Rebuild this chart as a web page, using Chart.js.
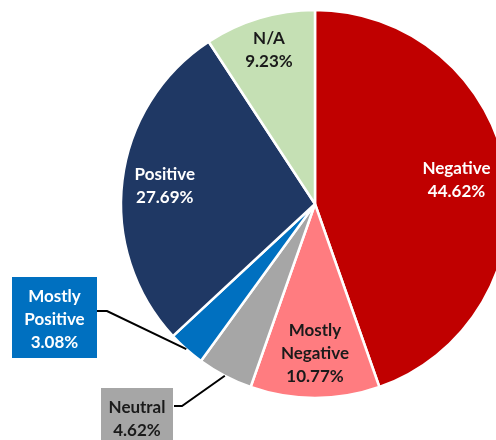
<!DOCTYPE html>
<html><head><meta charset="utf-8">
<script src="https://cdn.jsdelivr.net/npm/chart.js@4/dist/chart.umd.min.js"></script>
<style>
html,body{margin:0;padding:0;background:#fff;overflow:hidden;width:496px;height:440px;}
#wrap{position:absolute;left:0;top:0;width:630px;height:440px;}
</style></head>
<body><div id="wrap"><canvas id="c" width="630" height="440"></canvas></div>
<script>
const categories = ["Negative", "Mostly Negative", "Neutral", "Mostly Positive", "Positive", "N/A"];
const labelLines = [["Negative"], ["Mostly", "Negative"], ["Neutral"], ["Mostly", "Positive"], ["Positive"], ["N/A"]];
const values = [44.62, 10.77, 4.62, 3.08, 27.69, 9.23];
const percentLabels = ["44.62%", "10.77%", "4.62%", "3.08%", "27.69%", "9.23%"];

const colors = ["#C00000", "#FF7C80", "#A6A6A6", "#0070C0", "#1F3864", "#C5E0B4"];
const textColors = ["#ffffff", "#1a1a1a", "#1a1a1a", "#ffffff", "#ffffff", "#1a1a1a"];
// label placement: inside (radius factor) or callout box
const labelPlace = [
  {type: "in", r: 0.74},
  {type: "in", r: 0.77},
  {type: "box", box: {x: 101, y: 388, w: 72, h: 60}, anchor: {x: 174, y: 406}, elbow: {x: 182, y: 406}},
  {type: "box", box: {x: 12, y: 277, w: 85, h: 81}, anchor: {x: 97, y: 311}, elbow: {x: 107, y: 311}},
  {type: "in", r: 0.78},
  {type: "in", r: 0.83}
];
const FONT = "bold 17px Lato, 'Open Sans', sans-serif";
const LH = 23;

const labelPlugin = {
  id: "labels",
  afterDatasetsDraw(chart) {
    const ctx = chart.ctx;
    const meta = chart.getDatasetMeta(0);
    ctx.save();
    ctx.font = FONT;
    ctx.textAlign = "center";
    ctx.textBaseline = "middle";
    meta.data.forEach((arc, i) => {
      const p = arc.getProps(["x", "y", "startAngle", "endAngle", "outerRadius"], true);
      const mid = (p.startAngle + p.endAngle) / 2;
      const lines = labelLines[i].concat([percentLabels[i]]);
      const place = labelPlace[i];
      let cx, cy;
      if (place.type === "in") {
        cx = p.x + Math.cos(mid) * p.outerRadius * place.r;
        cy = p.y + Math.sin(mid) * p.outerRadius * place.r;
      } else {
        const ex = p.x + Math.cos(mid) * p.outerRadius;
        const ey = p.y + Math.sin(mid) * p.outerRadius;
        ctx.strokeStyle = "#000";
        ctx.lineWidth = 2;
        ctx.beginPath();
        ctx.moveTo(place.anchor.x, place.anchor.y);
        ctx.lineTo(place.elbow.x, place.elbow.y);
        ctx.lineTo(ex, ey);
        ctx.stroke();
        ctx.fillStyle = colors[i];
        ctx.fillRect(place.box.x, place.box.y, place.box.w, place.box.h);
        cx = place.box.x + place.box.w / 2;
        cy = place.box.y + 8 + (lines.length * LH) / 2;
      }
      ctx.fillStyle = textColors[i];
      const top = cy - (lines.length - 1) * LH / 2;
      lines.forEach((t, k) => ctx.fillText(t, cx, top + k * LH));
    });
    ctx.restore();
  }
};

new Chart(document.getElementById("c"), {
  type: "pie",
  data: {
    labels: categories,
    datasets: [{
      data: values,
      backgroundColor: colors,
      borderColor: "#ffffff",
      borderWidth: 2.5,
      hoverOffset: 0
    }]
  },
  options: {
    responsive: false,
    animation: false,
    radius: 194,
    layout: {padding: {left: 121, right: 121, top: 10, bottom: 42}},
    plugins: {legend: {display: false}, tooltip: {enabled: false}}
  },
  plugins: [labelPlugin]
});
</script>
</body></html>
